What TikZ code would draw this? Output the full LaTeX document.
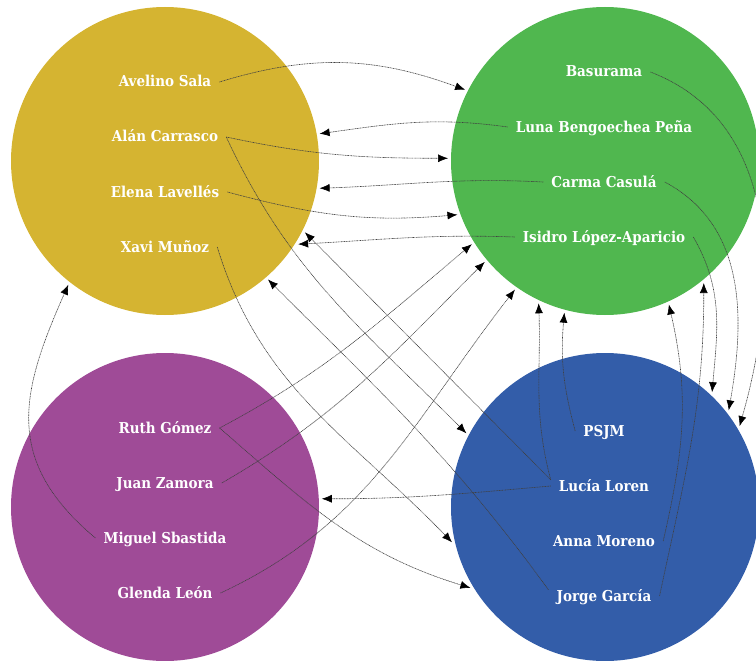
\documentclass[tikz,border=0pt]{standalone}
\usepackage{fontspec}
\newfontfamily\slab{DejaVu Serif Condensed}
\usetikzlibrary{arrows.meta}
\definecolor{ocre}{HTML}{D5B431}
\definecolor{verde}{HTML}{50B74F}
\definecolor{morado}{HTML}{9F4B97}
\definecolor{azul}{HTML}{335DA9}
\begin{document}
\begin{tikzpicture}[x=1pt,y=1pt,
  disc/.style={circle,minimum size=308pt,inner sep=0pt,outer sep=3pt},
  who/.style={text=white,font=\slab\bfseries\fontsize{15}{18}\selectfont,
    text height=11pt,text depth=1pt,inner xsep=8pt,inner ysep=0pt},
  link/.style={draw=black!75,line width=0.6pt,dash pattern=on 1pt off 0.6pt,
    -{Latex[length=10pt,width=8pt,color=black]}}]
\useasboundingbox (0,0) rectangle (756,-661);
\node[disc,fill=ocre] (ocre) at (165,-161) {};
\node[disc,fill=verde] (verde) at (605,-161) {};
\node[disc,fill=morado] (morado) at (165,-507) {};
\node[disc,fill=azul] (azul) at (605,-507) {};
\foreach \txt [count=\i] in {Avelino Sala,Alán Carrasco,Elena Lavellés,Xavi Muñoz}
  \node[who] (o\i) at (165,{-27-55*\i}) {\txt};
\foreach \txt [count=\i] in {Basurama,Luna Bengoechea Peña,Carma Casulá,Isidro López-Aparicio}
  \node[who] (v\i) at (604,{-17-55*\i}) {\txt};
\foreach \txt [count=\i] in {Ruth Gómez,Juan Zamora,Miguel Sbastida,Glenda León}
  \node[who] (m\i) at (165,{-373-55*\i}) {\txt};
\foreach \txt [count=\i] in {PSJM,Lucía Loren,Anna Moreno,Jorge García}
  \node[who] (a\i) at (604,{-376-55*\i}) {\txt};
% yellow <-> green
\draw[link] (o1.east) to[out=17,in=160] (verde.153);
\draw[link] (v2.west) to[out=172,in=8] (ocre.10);
\draw[link] (o2.east) to[out=-12,in=180] (verde.179);
\draw[link] (v3.west) to[out=177,in=2] (ocre.-10);
\draw[link] (o3.east) to[out=-15,in=185] (verde.-160);
\draw[link] (v4.west) to[out=178,in=3] (ocre.-32);
% yellow <-> blue
\draw[link] (o4.east) to[out=-73,in=134] (azul.-167);
\draw[link] (o2.east) to[out=-65,in=135] (azul.152);
\draw[link] (a2.north west) -- (ocre.-27);
\draw[link] (a4.north west) to[out=126,in=-45] (ocre.-49);
% blue -> purple, green
\draw[link] (a2.west) to[out=185,in=0] (morado.3);
\draw[link] (a2.north west) to[out=105,in=-88] (verde.-115);
\draw[link] (a1.west) to[out=105,in=-95] (verde.-105);
\draw[link] (a3.east) to[out=77,in=-77] (verde.-66);
\draw[link] (a4.east) to[out=78,in=-90] (verde.-51);
% green -> blue
\draw[link] (v4.east) to[out=-60,in=85] (azul.47);
\draw[link] (v3.east) to[out=-28,in=80] (azul.38);
\draw[link] (v1.east) to[out=-21,in=74] (azul.31);
% purple
\draw[link] (m1.east) to[out=28,in=-140] (verde.-148);
\draw[link] (m1.east) to[out=-41,in=163] (azul.-149);
\draw[link] (m2.east) to[out=30,in=-135] (verde.-140);
\draw[link] (m4.east) to[out=25,in=-128] (verde.-125);
\draw[link] (m3.west) to[out=140,in=-114,looseness=1.2] (ocre.-128);
\end{tikzpicture}
\end{document}
